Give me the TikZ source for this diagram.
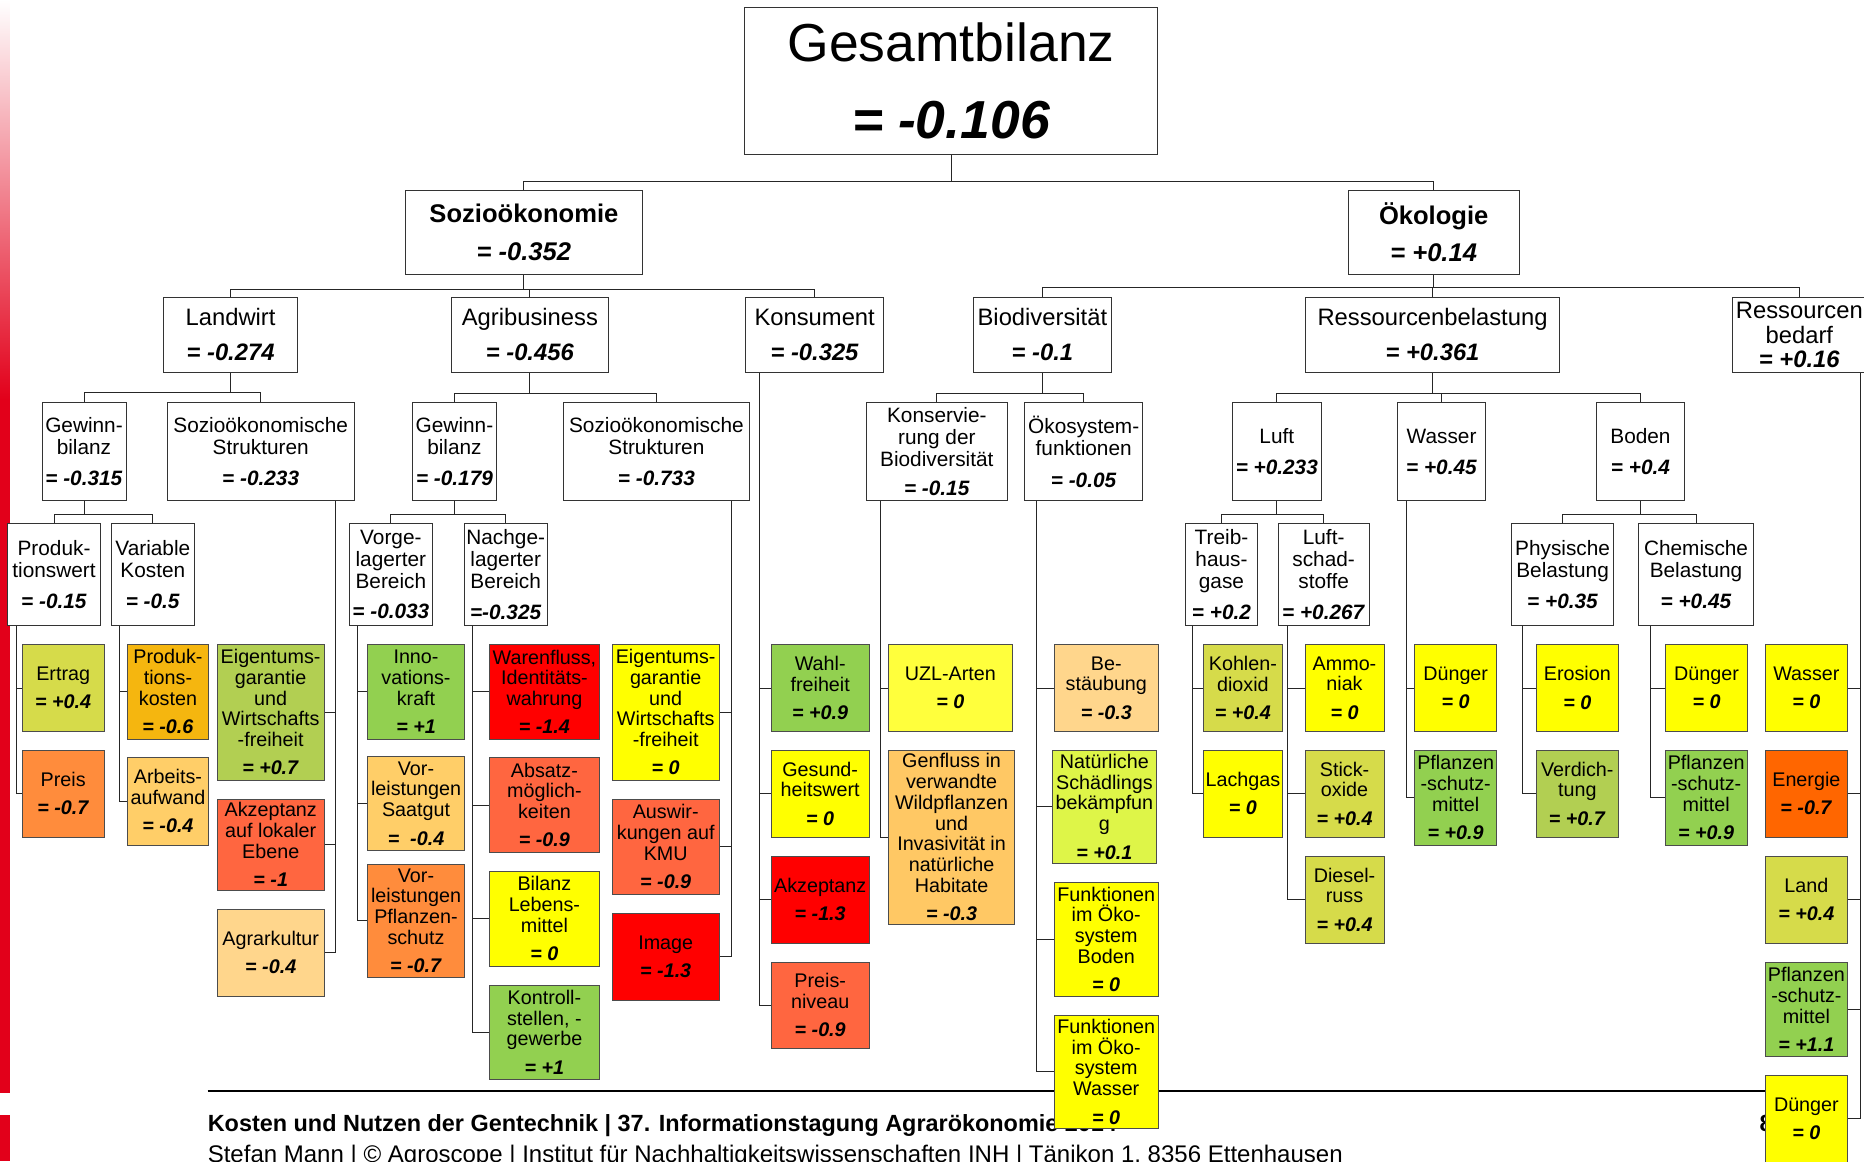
\documentclass[tikz,border=0pt]{standalone}
\usepackage{fontspec}
\setmainfont{Liberation Sans}
\usetikzlibrary{backgrounds}
\definecolor{sred}{RGB}{226,0,26}
\definecolor{cA}{RGB}{214,219,74}
\definecolor{cB}{RGB}{255,140,60}
\definecolor{cC}{RGB}{245,182,15}
\definecolor{cD}{RGB}{255,206,104}
\definecolor{cDl}{RGB}{255,214,140}
\definecolor{cE}{RGB}{178,207,82}
\definecolor{cF}{RGB}{255,102,64}
\definecolor{cG}{RGB}{146,208,80}
\definecolor{cR}{RGB}{255,0,0}
\definecolor{cY}{RGB}{255,255,0}
\definecolor{cYl}{RGB}{255,255,60}
\definecolor{cH}{RGB}{255,200,100}
\definecolor{cL}{RGB}{222,245,72}
\definecolor{cO}{RGB}{255,102,0}
\newcommand\V[1]{\textbf{\textit{#1}}}
\newcommand\bx[7]{\node[#2, minimum width={(#5-#3)*1pt}, minimum height={(#6-#4)*1pt}] (#1) at ({(#3+#5)/2},{(#4+#6)/2}) {#7};}
\tikzset{
  basebox/.style={rectangle, inner sep=0pt, outer sep=0pt, align=center},
  wbox/.style={basebox, draw=black!80, line width=0.7pt, fill=white},
  top/.style={wbox, font=\fontsize{45}{48}\selectfont},
  lv1/.style={wbox, font=\fontsize{21.5}{23.5}\selectfont},
  lv2/.style={wbox, font=\fontsize{20}{21}\selectfont},
  lv3/.style={wbox, font=\fontsize{17.5}{18.4}\selectfont},
  leaf/.style={basebox, draw=black!70, line width=0.7pt, fill=#1, font=\fontsize{16.6}{17.5}\selectfont},
  conn/.style={draw=black!85, line width=0.8pt},
}
\begin{document}
\begin{tikzpicture}[x=1pt,y=-1pt]
\useasboundingbox (0,0) rectangle (1568,977);
% ---------- boxes ----------
\bx{Gs}{top}{626.3}{6.2}{973.8}{129.8}{Gesamtbilanz\\[16pt]\V{= -0.106}}
\bx{Soz}{lv1}{341.4}{160.4}{540}{230.5}{\textbf{Sozioökonomie}\\[8pt]\V{= -0.352}}
\bx{Oek}{lv1}{1134}{160.4}{1278}{230.5}{\textbf{Ökologie}\\[8pt]\V{= +0.14}}
% level 2
\bx{Lw}{lv2}{137.4}{250}{250.5}{313.5}{Landwirt\\[8.4pt]\V{= -0.274}}
\bx{Ag}{lv2}{380}{250}{511.5}{313.5}{Agribusiness\\[8.4pt]\V{= -0.456}}
\bx{Ko}{lv2}{627.1}{250}{743.5}{313.5}{Konsument\\[8.4pt]\V{= -0.325}}
\bx{Bd}{lv2}{818.6}{250}{935.1}{313.5}{Biodiversität\\[8.4pt]\V{= -0.1}}
\bx{Rb}{lv2}{1098.4}{250}{1311.7}{313.5}{Ressourcenbelastung\\[8.4pt]\V{= +0.361}}
\bx{Rd}{lv2}{1457.2}{250}{1570}{313.5}{Ressourcen\\bedarf\\\V{= +0.16}}
% level 3
\bx{GbL}{lv3}{35.3}{338.7}{106}{421.2}{Gewinn-\\bilanz\\[8.2pt]\V{= -0.315}}
\bx{SsL}{lv3}{140.8}{338.7}{297.8}{421.2}{Sozioökonomische\\Strukturen\\[8.2pt]\V{= -0.233}}
\bx{GbA}{lv3}{347}{338.7}{417.6}{421.2}{Gewinn-\\bilanz\\[8.2pt]\V{= -0.179}}
\bx{SsA}{lv3}{473.8}{338.7}{630.5}{421.2}{Sozioökonomische\\Strukturen\\[8.2pt]\V{= -0.733}}
\bx{Kons}{lv3}{729}{338.7}{847.1}{421.2}{Konservie-\\rung der\\Biodiversität\\[6.5pt]\V{= -0.15}}
\bx{Oko}{lv3}{862}{338.7}{961.2}{421.2}{Ökosystem-\\funktionen\\[8.2pt]\V{= -0.05}}
\bx{Luft}{lv3}{1036.9}{338.7}{1111.2}{421.2}{Luft\\[7.6pt]\V{= +0.233}}
\bx{Wasser}{lv3}{1175.6}{338.7}{1249.7}{421.2}{Wasser\\[7.6pt]\V{= +0.45}}
\bx{Boden}{lv3}{1342.9}{338.7}{1417}{421.2}{Boden\\[7.6pt]\V{= +0.4}}
% level 4
\bx{Pw}{lv3}{6.2}{440.2}{84.7}{526.3}{Produk-\\tionswert\\[8.2pt]\V{= -0.15}}
\bx{Vk}{lv3}{93.6}{440.2}{163.5}{526.3}{Variable\\Kosten\\[8.2pt]\V{= -0.5}}
\bx{Vb}{lv3}{293.8}{440.2}{363.8}{526.3}{Vorge-\\lagerter\\Bereich\\[7.5pt]\V{= -0.033}}
\bx{Nb}{lv3}{390.6}{440.2}{460.2}{526.3}{Nachge-\\lagerter\\Bereich\\[7.5pt]\V{=-0.325}}
\bx{Th}{lv3}{997.4}{440.2}{1057.6}{526.3}{Treib-\\haus-\\gase\\[7.5pt]\V{= +0.2}}
\bx{Ls}{lv3}{1075.3}{440.2}{1151.6}{526.3}{Luft-\\schad-\\stoffe\\[7.5pt]\V{= +0.267}}
\bx{Ph}{lv3}{1271.8}{440.2}{1357.1}{526.3}{Physische\\Belastung\\[8.2pt]\V{= +0.35}}
\bx{Ch}{lv3}{1378.3}{440.2}{1475.1}{526.3}{Chemische\\Belastung\\[8.2pt]\V{= +0.45}}
% leaves: Landwirt
\bx{Ertrag}{leaf=cA}{18.8}{542}{87.5}{615.5}{Ertrag\\[6.3pt]\V{= +0.4}}
\bx{Preis}{leaf=cB}{18.8}{630.9}{87.5}{704.3}{Preis\\[6.3pt]\V{= -0.7}}
\bx{Pk}{leaf=cC}{107.1}{542}{175.5}{621.9}{Produk-\\tions-\\kosten\\[6.3pt]\V{= -0.6}}
\bx{Aa}{leaf=cD}{107.1}{637.3}{175.5}{710.8}{Arbeits-\\aufwand\\[6.3pt]\V{= -0.4}}
\bx{EigL}{leaf=cE}{182.5}{542}{272.8}{656.1}{Eigentums-\\garantie\\und\\Wirtschafts\\-freiheit\\[6.3pt]\V{= +0.7}}
\bx{AkzL}{leaf=cF}{182.5}{672.4}{273}{748.7}{Akzeptanz\\auf lokaler\\Ebene\\[6.3pt]\V{= -1}}
\bx{Agk}{leaf=cDl}{182.5}{764.6}{273}{837.8}{Agrarkultur\\[6.3pt]\V{= -0.4}}
% leaves: Agribusiness
\bx{Inno}{leaf=cG}{309.1}{542}{390.8}{621.9}{Inno-\\vations-\\kraft\\[6.3pt]\V{= +1}}
\bx{VorS}{leaf=cD}{309.1}{636}{390.8}{715.6}{Vor-\\leistungen\\Saatgut\\[6.3pt]\V{=\ \ -0.4}}
\bx{VorP}{leaf=cB}{309.1}{726.8}{390.8}{822.1}{Vor-\\leistungen\\Pflanzen-\\schutz\\[6.3pt]\V{= -0.7}}
\bx{Waren}{leaf=cR}{411.8}{542}{504.1}{621.9}{Warenfluss,\\Identitäts-\\wahrung\\[6.3pt]\V{= -1.4}}
\bx{Absatz}{leaf=cF}{411.8}{637.3}{504.1}{717}{Absatz-\\möglich-\\keiten\\[6.3pt]\V{= -0.9}}
\bx{Bilanz}{leaf=cY}{411.8}{733}{504.1}{812.6}{Bilanz\\Lebens-\\mittel\\[6.3pt]\V{= 0}}
\bx{Kontroll}{leaf=cG}{411.8}{828.6}{504.1}{907.9}{Kontroll-\\stellen, -\\gewerbe\\[6.3pt]\V{= +1}}
\bx{EigA}{leaf=cY}{514.9}{542}{605}{656.1}{Eigentums-\\garantie\\und\\Wirtschafts\\-freiheit\\[6.3pt]\V{= 0}}
\bx{Ausw}{leaf=cF}{515}{672.4}{605}{752}{Auswir-\\kungen auf\\KMU\\[6.3pt]\V{= -0.9}}
\bx{Image}{leaf=cR}{515}{768.3}{605}{841.2}{Image\\[6.3pt]\V{= -1.3}}
% leaves: Konsument
\bx{Wahl}{leaf=cG}{648.6}{542}{731.3}{615.5}{Wahl-\\freiheit\\[6.3pt]\V{= +0.9}}
\bx{Gesund}{leaf=cY}{648.6}{630.9}{731.3}{704.3}{Gesund-\\heitswert\\[6.3pt]\V{= 0}}
\bx{AkzK}{leaf=cR}{648.6}{720}{731.3}{793.5}{Akzeptanz\\[6.3pt]\V{= -1.3}}
\bx{Pniv}{leaf=cF}{648.6}{809.2}{731.3}{882.1}{Preis-\\niveau\\[6.3pt]\V{= -0.9}}
% leaves: Biodiversitaet
\bx{UZL}{leaf=cYl}{747}{542}{851.8}{615.5}{UZL-Arten\\[6.3pt]\V{= 0}}
\bx{Genf}{leaf=cH}{747.4}{630.9}{853.5}{777.5}{Genfluss in\\verwandte\\Wildpflanzen\\und\\Invasivität in\\natürliche\\Habitate\\[6.3pt]\V{= -0.3}}
\bx{Best}{leaf=cDl}{886.6}{542}{974.7}{615.5}{Be-\\stäubung\\[6.3pt]\V{= -0.3}}
\bx{Nat}{leaf=cL}{885}{630.9}{973}{726.2}{Natürliche\\Schädlings\\bekämpfun\\g\\[6.3pt]\V{= +0.1}}
\bx{FB}{leaf=cY}{886.6}{742.5}{974.5}{837.8}{Funktionen\\im Öko-\\system\\Boden\\[6.3pt]\V{= 0}}
\bx{FW}{leaf=cY}{886.6}{853.8}{974.5}{949.1}{Funktionen\\im Öko-\\system\\Wasser\\[6.3pt]\V{= 0}}
% leaves: Ressourcenbelastung
\bx{Kohlen}{leaf=cA}{1012.2}{542}{1078.8}{615.5}{Kohlen-\\dioxid\\[6.3pt]\V{= +0.4}}
\bx{Lachgas}{leaf=cY}{1012.2}{630.9}{1078.8}{704.3}{Lachgas\\[6.3pt]\V{= 0}}
\bx{Ammo}{leaf=cY}{1097.7}{542}{1164.3}{615.5}{Ammo-\\niak\\[6.3pt]\V{= 0}}
\bx{Stick}{leaf=cA}{1097.7}{630.9}{1164.3}{704.3}{Stick-\\oxide\\[6.3pt]\V{= +0.4}}
\bx{Diesel}{leaf=cA}{1097.7}{720}{1164.3}{793.5}{Diesel-\\russ\\[6.3pt]\V{= +0.4}}
\bx{DuW}{leaf=cY}{1190}{542}{1259}{615.5}{Dünger\\[6.3pt]\V{= 0}}
\bx{PsW}{leaf=cG}{1190}{630.9}{1259}{710.8}{Pflanzen\\-schutz-\\mittel\\[6.3pt]\V{= +0.9}}
\bx{Erosion}{leaf=cY}{1292.4}{542}{1361.3}{615.5}{Erosion\\[6.3pt]\V{= 0}}
\bx{Verd}{leaf=cE}{1292.4}{630.9}{1361.3}{704.3}{Verdich-\\tung\\[6.3pt]\V{= +0.7}}
\bx{DuC}{leaf=cY}{1401}{542}{1470}{615.5}{Dünger\\[6.3pt]\V{= 0}}
\bx{PsC}{leaf=cG}{1401}{630.9}{1469.5}{710.8}{Pflanzen\\-schutz-\\mittel\\[6.3pt]\V{= +0.9}}
% leaves: Ressourcenbedarf
\bx{WaR}{leaf=cY}{1485}{542}{1554}{615.5}{Wasser\\[6.3pt]\V{= 0}}
\bx{Energie}{leaf=cO}{1485}{630.9}{1554}{704.3}{Energie\\[6.3pt]\V{= -0.7}}
\bx{Land}{leaf=cA}{1485}{720}{1554}{793.5}{Land\\[6.3pt]\V{= +0.4}}
\bx{PsR}{leaf=cG}{1485}{809.2}{1554}{888.9}{Pflanzen\\-schutz-\\mittel\\[6.3pt]\V{= +1.1}}
\bx{DuR}{leaf=cY}{1485}{904.5}{1554}{978}{Dünger\\[6.3pt]\V{= 0}}
% ---------- background: strip, footer, connectors ----------
\begin{pgfonlayer}{background}
\shade[top color=white, bottom color=sred] (0,0) rectangle (8,336);
\fill[sred] (0,335.5) rectangle (8,919.5);
\fill[sred] (0,938) rectangle (8,977);
\draw[line width=1.7pt] (174.6,917.5) -- (1490,917.5);
\node[anchor=base west, inner sep=0pt, font=\fontsize{19.7}{22}\selectfont\bfseries] (ft1) at (174.6,952) {Kosten und Nutzen der Gentechnik | 37. Informationstagung Agrarökonomie 2014};
\node[anchor=base west, inner sep=0pt, font=\fontsize{20.2}{22}\selectfont] (ft2) at (174.6,977.5) {Stefan Mann | © Agroscope | Institut für Nachhaltigkeitswissenschaften INH | Tänikon 1, 8356 Ettenhausen};
\node[anchor=base west, inner sep=0pt, font=\fontsize{19.7}{22}\selectfont\bfseries] (pg) at (1480,952) {8};
% tree connectors
\draw[conn] (Gs.south) -- ++(0,23) -| (Soz.north);
\draw[conn] (Gs.south) ++(0,23) -| (Oek.north);
\foreach \c in {Lw,Ag,Ko} \draw[conn] (Soz.south) -- ++(0,12.9) -| (\c.north);
\foreach \c in {Bd,Rb,Rd} \draw[conn] (Oek.south) -- ++(0,11.2) -| (\c.north);
\foreach \c in {GbL,SsL} \draw[conn] (Lw.south) -- ++(0,17) -| (\c.north);
\foreach \c in {GbA,SsA} \draw[conn] (Ag.south) -- ++(0,17.8) -| (\c.north);
\foreach \c in {Kons,Oko} \draw[conn] (Bd.south) -- ++(0,17.8) -| (\c.north);
\foreach \c in {Luft,Wasser,Boden} \draw[conn] (Rb.south) -- ++(0,17.4) -| (\c.north);
\foreach \c in {Pw,Vk} \draw[conn] (GbL.south) -- ++(0,11.4) -| (\c.north);
\foreach \c in {Vb,Nb} \draw[conn] (GbA.south) -- ++(0,11.4) -| (\c.north);
\foreach \c in {Th,Ls} \draw[conn] (Luft.south) -- ++(0,11.4) -| (\c.north);
\foreach \c in {Ph,Ch} \draw[conn] (Boden.south) -- ++(0,11.4) -| (\c.north);
% leaf connectors
\foreach \l in {Ertrag,Preis} \draw[conn] ([xshift=7.8pt]Pw.south west) |- (\l.west);
\foreach \l in {Pk,Aa} \draw[conn] ([xshift=6.8pt]Vk.south west) |- (\l.west);
\foreach \l in {EigL,AkzL,Agk} \draw[conn] ([xshift=-16pt]SsL.south east) |- (\l.east);
\foreach \l in {Inno,VorS,VorP} \draw[conn] ([xshift=7.3pt]Vb.south west) |- (\l.west);
\foreach \l in {Waren,Absatz,Bilanz,Kontroll} \draw[conn] ([xshift=7.2pt]Nb.south west) |- (\l.west);
\foreach \l in {EigA,Ausw,Image} \draw[conn] ([xshift=-15.5pt]SsA.south east) |- (\l.east);
\foreach \l in {Wahl,Gesund,AkzK,Pniv} \draw[conn] ([xshift=11.9pt]Ko.south west) |- (\l.west);
\foreach \l in {UZL,Genf} \draw[conn] ([xshift=11.8pt]Kons.south west) |- (\l.west);
\foreach \l in {Best,Nat,FB,FW} \draw[conn] ([xshift=10pt]Oko.south west) |- (\l.west);
\foreach \l in {Kohlen,Lachgas} \draw[conn] ([xshift=5.9pt]Th.south west) |- (\l.west);
\foreach \l in {Ammo,Stick,Diesel} \draw[conn] ([xshift=7.9pt]Ls.south west) |- (\l.west);
\foreach \l in {DuW,PsW} \draw[conn] ([xshift=7.5pt]Wasser.south west) |- (\l.west);
\foreach \l in {Erosion,Verd} \draw[conn] ([xshift=8.5pt]Ph.south west) |- (\l.west);
\foreach \l in {DuC,PsC} \draw[conn] ([xshift=10pt]Ch.south west) |- (\l.west);
\foreach \l in {WaR,Energie,Land,PsR,DuR} \draw[conn] ([xshift=-5pt]Rd.south east) |- (\l.east);
\end{pgfonlayer}
\end{tikzpicture}
\end{document}
